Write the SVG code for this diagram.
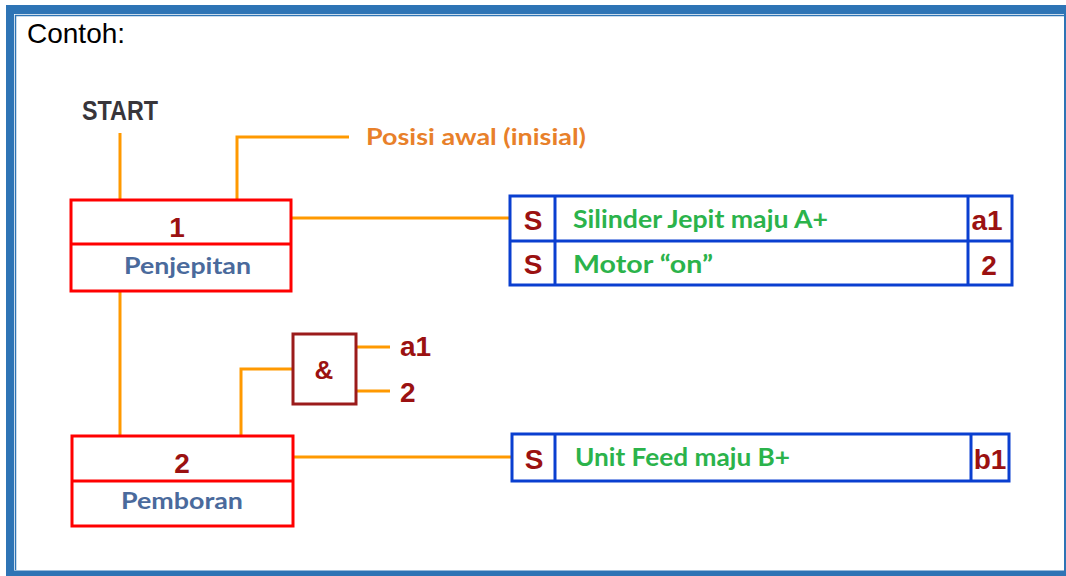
<svg xmlns="http://www.w3.org/2000/svg" width="1066" height="576" viewBox="0 0 1066 576">
<style>
.wire{fill:none;stroke:#FF9900;stroke-width:3}
.step{fill:#fff;stroke:#FF0000;stroke-width:3}
.act{fill:#fff;stroke:#0A3FD0;stroke-width:3}
.and{fill:#fff;stroke:#9B1B1B;stroke-width:3}
.num{font-family:"Liberation Sans",Arial,sans-serif;font-weight:bold;fill:#9B1111}
.grn{font-family:Lato,"Noto Sans",sans-serif;font-weight:bold;fill:#2BB34B;font-size:24px}
.nm{font-family:Lato,"Noto Sans",sans-serif;font-weight:bold;fill:#4A6A9C;font-size:22px}
</style>
<g id="frame">
<rect x="6" y="5" width="1060" height="571" fill="#2E74B5"/>
<rect x="14" y="14" width="1050" height="556.5" fill="#fff"/>
<path d="M15.5 570 V15.5 H1064" fill="none" stroke="#2E74B5" stroke-width="1.5"/>
</g>
<text x="27" y="43" font-family="Liberation Sans,Arial,sans-serif" font-size="28" fill="#000">Contoh:</text>
<text x="82" y="120" font-family="Liberation Sans,Arial,sans-serif" font-weight="bold" font-size="27" fill="#38353A" textLength="76" lengthAdjust="spacingAndGlyphs">START</text>
<g id="connectors">
<path class="wire" d="M120 133 V200"/>
<path class="wire" d="M237 200 V137 H349"/>
<path class="wire" d="M292 218 H511"/>
<path class="wire" d="M120 291 V436"/>
<path class="wire" d="M241 436 V369 H293"/>
<path class="wire" d="M356 347 H390"/>
<path class="wire" d="M356 391 H390"/>
<path class="wire" d="M293 457 H512"/>
</g>
<text x="366" y="145" font-family="Lato,'Noto Sans',sans-serif" font-weight="bold" font-size="22" fill="#E8802A" textLength="220" lengthAdjust="spacingAndGlyphs">Posisi awal (inisial)</text>
<g id="step1">
<rect class="step" x="71" y="200" width="220" height="91"/>
<line x1="71" y1="244" x2="291" y2="244" stroke="#FF0000" stroke-width="3"/>
<text class="num" x="177" y="237" font-size="28" text-anchor="middle">1</text>
<text class="nm" x="124" y="274" textLength="127" lengthAdjust="spacingAndGlyphs">Penjepitan</text>
</g>
<g id="action1">
<rect class="act" x="510" y="196" width="502" height="89"/>
<line x1="510" y1="241" x2="1012" y2="241" stroke="#0A3FD0" stroke-width="3"/>
<line x1="555" y1="196" x2="555" y2="285" stroke="#0A3FD0" stroke-width="3"/>
<line x1="968" y1="196" x2="968" y2="285" stroke="#0A3FD0" stroke-width="3"/>
<text class="num" x="533" y="230" font-size="28" text-anchor="middle">S</text>
<text class="num" x="533" y="274" font-size="28" text-anchor="middle">S</text>
<text class="grn" x="573" y="228" textLength="255" lengthAdjust="spacingAndGlyphs">Silinder Jepit maju A+</text>
<text class="grn" x="573" y="273" textLength="140" lengthAdjust="spacingAndGlyphs">Motor “on”</text>
<text class="num" x="987" y="230" font-size="28" text-anchor="middle">a1</text>
<text class="num" x="989" y="275" font-size="28" text-anchor="middle">2</text>
</g>
<g id="and">
<rect class="and" x="293" y="334" width="63" height="70"/>
<text class="num" x="324" y="379" font-size="26" text-anchor="middle">&amp;</text>
<text class="num" x="400" y="356" font-size="28">a1</text>
<text class="num" x="400" y="402" font-size="28">2</text>
</g>
<g id="step2">
<rect class="step" x="72" y="436" width="221" height="90"/>
<line x1="72" y1="481" x2="293" y2="481" stroke="#FF0000" stroke-width="3"/>
<text class="num" x="182" y="473" font-size="28" text-anchor="middle">2</text>
<text class="nm" x="121" y="509" textLength="122" lengthAdjust="spacingAndGlyphs">Pemboran</text>
</g>
<g id="action2">
<rect class="act" x="512" y="434" width="497" height="47"/>
<line x1="555" y1="434" x2="555" y2="481" stroke="#0A3FD0" stroke-width="3"/>
<line x1="971" y1="434" x2="971" y2="481" stroke="#0A3FD0" stroke-width="3"/>
<text class="num" x="534" y="469" font-size="28" text-anchor="middle">S</text>
<text class="grn" x="575" y="466" textLength="215" lengthAdjust="spacingAndGlyphs">Unit Feed maju B+</text>
<text class="num" x="990" y="469" font-size="28" text-anchor="middle">b1</text>
</g>
</svg>
